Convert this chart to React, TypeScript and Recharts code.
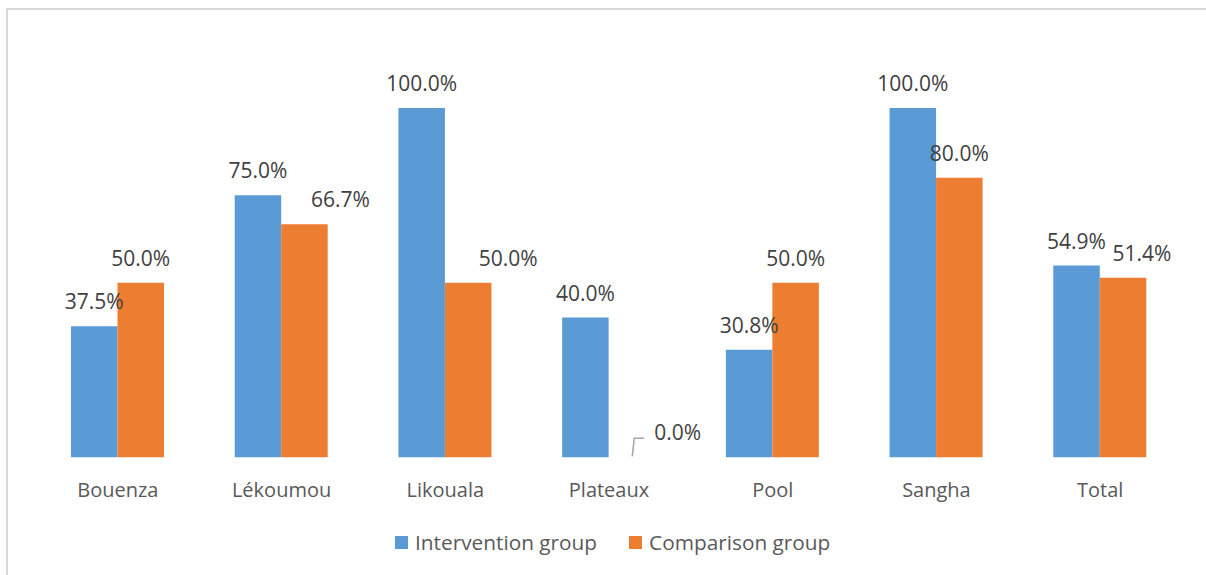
import { Bar, BarChart, LabelList, ReferenceDot, XAxis, YAxis } from "recharts";

const categories = ["Bouenza", "Lékoumou", "Likouala", "Plateaux", "Pool", "Sangha", "Total"];
const intervention = [37.5, 75.0, 100.0, 40.0, 30.8, 100.0, 54.9];
const comparison = [50.0, 66.7, 50.0, 0.0, 50.0, 80.0, 51.4];

// horizontal nudge for comparison labels that would collide with the neighbour bar
const comparisonLabelShift = [0, 36, 40, 0, 0, 19, 39];

const BAR_SIZE = 46.5;

const colors = {
  intervention: "#5b9bd5",
  comparison: "#ed7d31",
  label: "#404040",
  axis: "#595959",
  leader: "#a6a6a6",
  frame: "#d9d9d9",
};

const font = "'Open Sans', 'Noto Sans', sans-serif";

const data = categories.map((name, i) => ({
  name,
  intervention: intervention[i],
  comparison: comparison[i],
}));

const fmt = (v: number) => `${v.toFixed(1)}%`;

function ValueText({ x, y, value, anchor = "middle" }: any) {
  return (
    <text
      x={x}
      y={y}
      textAnchor={anchor}
      dominantBaseline="central"
      fill={colors.label}
      fontSize={21}
      fontFamily={font}
    >
      {fmt(Number(value))}
    </text>
  );
}

function InterventionLabel(props: any) {
  const { x, y, width, value } = props;
  return <ValueText x={x + width / 2} y={y - 25} value={value} />;
}

function ComparisonLabel(props: any) {
  const { x, y, width, value, index } = props;
  if (Number(value) === 0) return null;
  return <ValueText x={x + width / 2 + (comparisonLabelShift[index] ?? 0)} y={y - 25} value={value} />;
}

// zero-height comparison bar: label pulled out with a leader line
function ZeroLabel(props: any) {
  const { cx: catX, cy: y } = props;
  const cx = catX + BAR_SIZE / 2;
  return (
    <g>
      <polyline
        points={`${cx},${y - 1} ${cx + 2},${y - 19} ${cx + 12},${y - 19}`}
        fill="none"
        stroke={colors.leader}
        strokeWidth={1.5}
      />
      <ValueText x={cx + 22} y={y - 25} value={0} anchor="start" />
    </g>
  );
}

function CategoryTick(props: any) {
  const { x, y, payload } = props;
  return (
    <text
      x={x}
      y={y + 32}
      textAnchor="middle"
      dominantBaseline="central"
      fill={colors.axis}
      fontSize={20}
      fontFamily={font}
    >
      {payload.value}
    </text>
  );
}

function LegendItem({ color, text }: { color: string; text: string }) {
  return (
    <div style={{ display: "flex", alignItems: "center", gap: 7 }}>
      <div style={{ width: 13, height: 13, background: color }} />
      <span>{text}</span>
    </div>
  );
}

export default function App() {
  return (
    <div
      style={{
        position: "absolute",
        left: 0,
        top: 0,
        width: 1206,
        height: 575,
        overflow: "hidden",
        background: "#fff",
      }}
    >
      <div style={{ position: "absolute", left: 6, top: 8, width: 1200, height: 2, background: colors.frame }} />
      <div style={{ position: "absolute", left: 6, top: 8, width: 2, height: 567, background: colors.frame }} />
      <BarChart
        width={1206}
        height={575}
        data={data}
        barGap={0}
        barSize={BAR_SIZE}
        margin={{ top: 108, right: 24, left: 36, bottom: 87.7 }}
        style={{ position: "absolute", left: 0, top: 0 }}
      >
        <XAxis
          dataKey="name"
          axisLine={false}
          tickLine={false}
          tickSize={0}
          tickMargin={0}
          height={30}
          interval={0}
          tick={<CategoryTick />}
        />
        <YAxis hide domain={[0, 100]} />
        <Bar dataKey="intervention" fill={colors.intervention} isAnimationActive={false}>
          <LabelList dataKey="intervention" content={<InterventionLabel />} />
        </Bar>
        <Bar dataKey="comparison" fill={colors.comparison} isAnimationActive={false}>
          <LabelList dataKey="comparison" content={<ComparisonLabel />} />
        </Bar>
        {data
          .filter((d) => d.comparison === 0)
          .map((d) => (
            <ReferenceDot key={d.name} x={d.name} y={d.comparison} shape={<ZeroLabel />} />
          ))}
      </BarChart>
      <div
        style={{
          position: "absolute",
          left: 395,
          top: 529,
          display: "flex",
          gap: 32,
          fontFamily: font,
          fontSize: 20.8,
          color: colors.axis,
          lineHeight: "26px",
        }}
      >
        <LegendItem color={colors.intervention} text="Intervention group" />
        <LegendItem color={colors.comparison} text="Comparison group" />
      </div>
    </div>
  );
}
